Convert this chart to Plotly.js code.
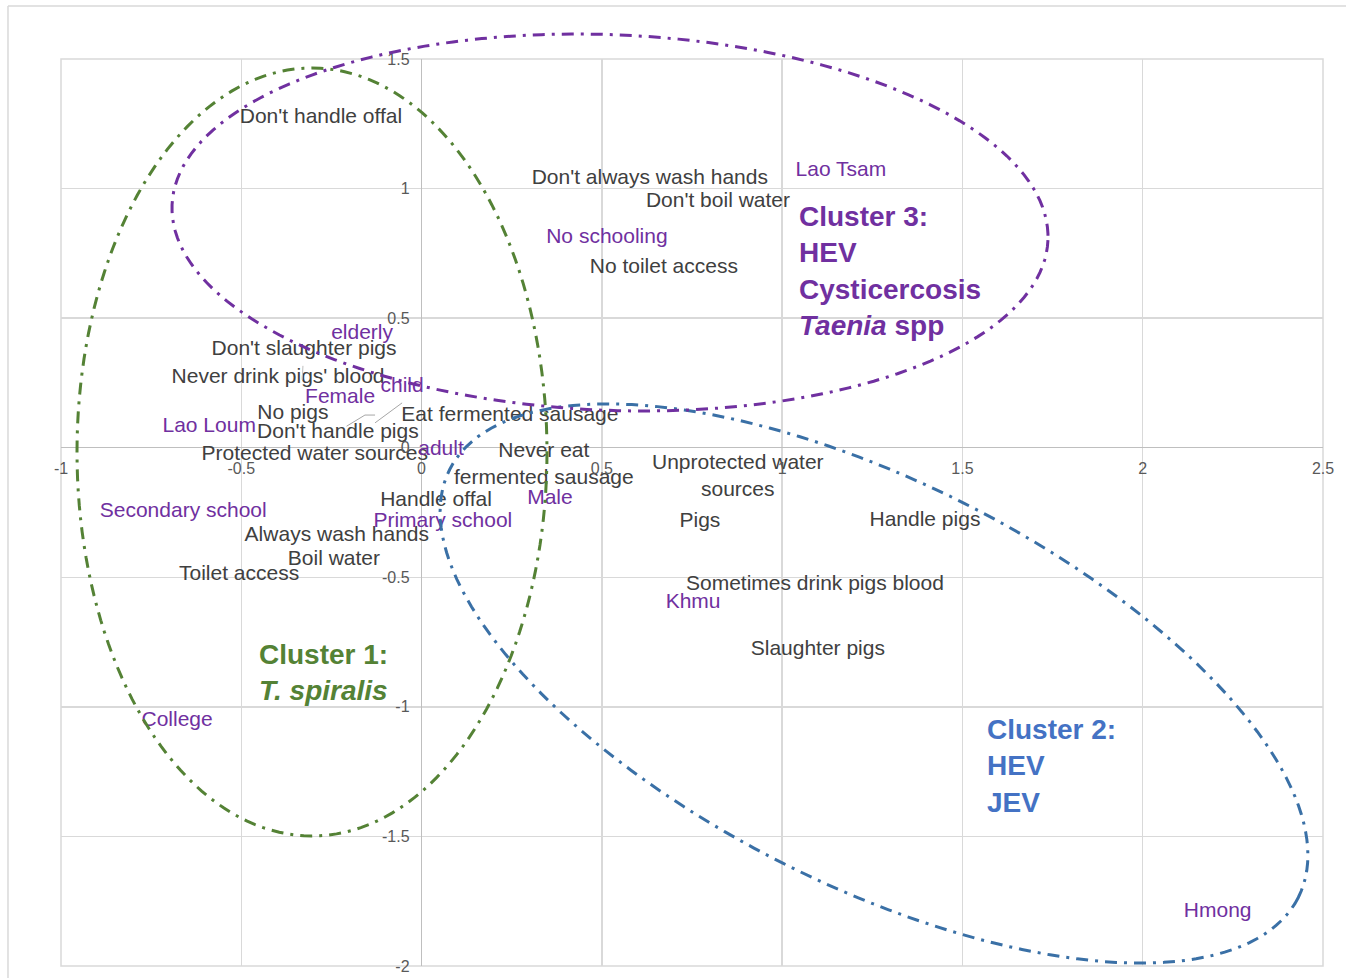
<!DOCTYPE html>
<html>
<head>
<meta charset="utf-8">
<script src="https://cdn.plot.ly/plotly-3.0.1.min.js"></script>
<style>html,body{margin:0;padding:0;background:#fff;}#chart{width:1346px;height:978px;}</style>
</head>
<body>
<div id="chart"></div>
<script>
// Variable categories (black labels)
const varLabels = ["Don't handle offal","Don't always wash hands","Don't boil water","No toilet access",
  "Don't slaughter pigs","Never drink pigs' blood","No pigs","Eat fermented sausage","Don't handle pigs",
  "Protected water sources","Never eat<br>fermented sausage","Unprotected water<br>sources","Handle offal",
  "Always wash hands","Boil water","Toilet access","Pigs","Handle pigs","Sometimes drink pigs blood","Slaughter pigs"];
const varX = [-0.279,0.633,0.822,0.672,-0.326,-0.398,-0.357,0.245,-0.232,-0.296,0.339,0.877,0.040,-0.235,-0.243,-0.506,0.772,1.396,1.091,1.099];
const varY = [1.272,1.037,0.948,0.694,0.377,0.269,0.130,0.122,0.056,-0.029,-0.068,-0.114,-0.206,-0.338,-0.434,-0.492,-0.287,-0.283,-0.527,-0.781];

// Demographic categories (purple labels)
const demoLabels = ["Lao Tsam","No schooling","elderly","child","Female","Lao Loum","adult","Secondary school","Male","Primary school","Khmu","College","Hmong"];
const demoX = [1.163,0.514,-0.165,-0.054,-0.226,-0.589,0.054,-0.661,0.356,0.059,0.753,-0.678,2.208];
const demoY = [1.067,0.809,0.439,0.234,0.191,0.080,-0.009,-0.248,-0.198,-0.287,-0.600,-1.052,-1.792];

// Axis ticks
const tickVals = [-2,-1.5,-1,-0.5,0,0.5,1,1.5,2,2.5];

// Cluster annotations
const clusterText = ["<b>Cluster 1:</b><br><b><i>T. spiralis</i></b>",
  "<b>Cluster 2:</b><br><b>HEV</b><br><b>JEV</b>",
  "<b>Cluster 3:</b><br><b>HEV</b><br><b>Cysticercosis</b><br><b><i>Taenia</i> spp</b>"];
const clusterX = [-0.456,1.562,1.041];
const clusterY = [-0.866,-1.229,0.681];
const clusterColors = ["#548235","#4472C4","#7030A0"];

// Cluster ellipses (hand-drawn outline geometry, in plot-area pixels from top-left)
const W = 1262, H = 907;
const ellipses = [
  {cx: 251, cy: 393, a: 235, b: 384, rot: 0, color: "#548235"},
  {cx: 813, cy: 624.5, a: 475.2, b: 201.5, rot: 26.76, color: "#3A70A6"},
  {cx: 549, cy: 163.5, a: 438.3, b: 187.8, rot: 2.3, color: "#7030A0"}
];
function ellipsePath(e){
  const th = e.rot*Math.PI/180, pts=[];
  for(let i=0;i<=180;i++){
    const t = i/180*2*Math.PI;
    const px = e.cx + e.a*Math.cos(t)*Math.cos(th) - e.b*Math.sin(t)*Math.sin(th);
    const py = e.cy + e.a*Math.cos(t)*Math.sin(th) + e.b*Math.sin(t)*Math.cos(th);
    pts.push((px/W).toFixed(5)+','+(1-py/H).toFixed(5));
  }
  return 'M'+pts.join('L')+'Z';
}

const shapes = [];
// plot border
shapes.push({type:'rect',xref:'paper',yref:'paper',x0:0,x1:1,y0:0,y1:1,line:{color:'#d9d9d9',width:1.5},layer:'below'});
// outer chart border (left & top)
shapes.push({type:'line',xref:'paper',yref:'paper',x0:-0.042,x1:-0.042,y0:1.0584,y1:-0.03,line:{color:'#d9d9d9',width:1.5}});
shapes.push({type:'line',xref:'paper',yref:'paper',x0:-0.042,x1:1.03,y0:1.0584,y1:1.0584,line:{color:'#d9d9d9',width:1.5}});
// leader lines
shapes.push({type:'path',xref:'x',yref:'y',path:'M-0.208,0.083L-0.157,0.126L-0.129,0.126',line:{color:'#a6a6a6',width:1}});
shapes.push({type:'line',xref:'x',yref:'y',x0:-0.129,y0:0.096,x1:-0.054,y1:0.173,line:{color:'#a6a6a6',width:1}});
shapes.push({type:'line',xref:'x',yref:'y',x0:-0.329,y0:0.316,x1:-0.331,y1:0.262,line:{color:'#bfbfbf',width:1}});
ellipses.forEach(e=>{
  shapes.push({type:'path',xref:'paper',yref:'paper',path:ellipsePath(e),
    line:{color:e.color,width:3,dash:'12px,7px,3px,7px'},fillcolor:'rgba(0,0,0,0)',layer:'above'});
});

const font = "'Liberation Sans', Arial, Helvetica, sans-serif";

const traces = [
  {x: varX, y: varY, text: varLabels, mode:'text', type:'scatter', textposition:'middle center',
   textfont:{family:font,size:21,color:'#404040'}, cliponaxis:false, hoverinfo:'skip'},
  {x: demoX, y: demoY, text: demoLabels, mode:'text', type:'scatter', textposition:'middle center',
   textfont:{family:font,size:21,color:'#7030A0'}, cliponaxis:false, hoverinfo:'skip'}
];

const annotations = clusterText.map((t,i)=>({
  x: clusterX[i], y: clusterY[i], xref:'x', yref:'y', text:t, showarrow:false,
  xanchor:'left', yanchor:'middle', align:'left',
  font:{family:font,size:28,color:clusterColors[i]}
}));

const layout = {
  width:1346, height:978,
  margin:{l:61,r:23,t:59,b:12},
  paper_bgcolor:'#ffffff', plot_bgcolor:'#ffffff',
  showlegend:false, hovermode:false,
  font:{family:font,color:'#595959'},
  xaxis:{range:[-1,2.5], tickvals:tickVals, ticktext:tickVals.map(String), showgrid:true, gridcolor:'#d9d9d9', gridwidth:1.5,
    zeroline:true, zerolinecolor:'#bfbfbf', zerolinewidth:1.5, showline:false, ticks:'',
    anchor:'free', position:2/3.5, tickfont:{family:font,size:16,color:'#595959'}, ticklabelstandoff:9, fixedrange:true},
  yaxis:{range:[-2,1.5], tickvals:tickVals, ticktext:tickVals.map(String), showgrid:true, gridcolor:'#d9d9d9', gridwidth:1.5,
    zeroline:true, zerolinecolor:'#bfbfbf', zerolinewidth:1.5, showline:false, ticks:'',
    anchor:'free', position:1/3.5, tickfont:{family:font,size:16,color:'#595959'}, ticklabelstandoff:12, fixedrange:true},
  shapes: shapes,
  annotations: annotations
};

Plotly.newPlot('chart', traces, layout, {staticPlot:true, displayModeBar:false});
</script>
</body>
</html>
